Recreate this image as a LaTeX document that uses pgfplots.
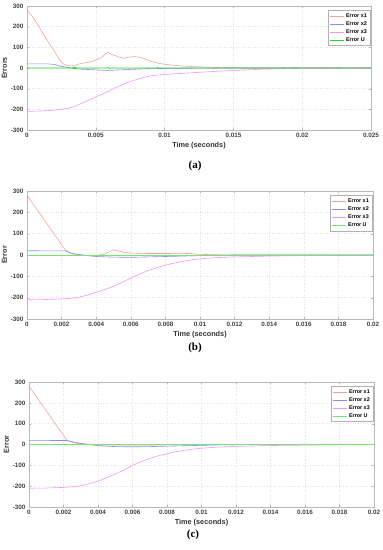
\documentclass[border=0pt]{standalone}
\usepackage{pgfplots}
\pgfplotsset{compat=1.18}
\usepackage{fontspec}
\setmainfont{Liberation Sans}
\newfontfamily\capfont{Liberation Serif}
\definecolor{cx1}{RGB}{240,160,160}
\definecolor{cx2}{RGB}{140,140,232}
\definecolor{cx3}{RGB}{244,150,244}
\definecolor{cu}{RGB}{120,225,120}
\definecolor{cuA}{RGB}{40,215,40}
\pgfplotsset{
  errstyle/.style={
    scale only axis,
    ymin=-300, ymax=300, ytick={-300,-200,...,300},
    scaled x ticks=false, scaled y ticks=false,
    axis line style={gray!55},
    tick style={gray!60},
    tick align=inside, major tick length=2pt,
    grid=major, major grid style={gray!22, dotted},
    /pgf/number format/assume math mode=true,
    ticklabel style={font=\fontsize{6.3}{7}\selectfont\bfseries\color{black!75}},
    xtick pos=both, ytick pos=both,
    label style={font=\fontsize{7.3}{8}\selectfont\bfseries\color{black!80}},
    xlabel={Time (seconds)},
    xlabel style={yshift=3pt},
    ylabel style={yshift=-3pt},
    legend style={at={(0.997,0.965)}, anchor=north east, draw=gray!60, fill=white,
      font=\fontsize{5.4}{6}\selectfont\bfseries, row sep=-1.3pt, inner sep=1pt,
      cells={anchor=west}},
    legend image code/.code={\draw[##1, line width=0.6pt] (0pt,0pt) -- (14pt,0pt);},
    every axis plot/.append style={line width=0.6pt},
    clip=true,
  }
}
\begin{document}
\begin{tikzpicture}
\useasboundingbox (0pt,0pt) rectangle (383pt,550pt);
% ---------------- (a)
\begin{axis}[errstyle, at={(27pt,420pt)}, anchor=south west, width=344pt, height=124pt,
  xmin=0, xmax=0.025, xtick={0,0.005,0.01,0.015,0.02,0.025},
  xticklabels={0,0.005,0.01,0.015,0.02,0.025},
  ylabel={Errors}]
\addplot[color=cx1] coordinates {(0,282)(0.0005,240)(0.001,185)(0.0015,130)(0.002,80)(0.0023,45)(0.0026,22)(0.0029,11)(0.0032,10)(0.0036,16)(0.004,23)(0.0045,28)(0.005,38)(0.0054,50)(0.0057,68)(0.0059,76)(0.006,70)(0.0062,65)(0.0066,55)(0.007,47)(0.0074,52)(0.0078,55)(0.0082,52)(0.0086,43)(0.009,32)(0.0095,24)(0.01,18)(0.011,11)(0.012,7)(0.013,4)(0.014,2)(0.015,1)(0.017,0)(0.025,0)};
\addplot[color=cx2] coordinates {(0,20)(0.0015,20)(0.002,17)(0.0025,8)(0.003,2)(0.0035,-3)(0.004,-6)(0.005,-9)(0.0058,-12)(0.0065,-10)(0.0075,-7)(0.0085,-4)(0.01,-2)(0.012,-1)(0.015,0)(0.025,0)};
\addplot[color=cx3] coordinates {(0,-210)(0.001,-208)(0.002,-204)(0.0025,-200)(0.003,-195)(0.0035,-185)(0.004,-170)(0.0045,-155)(0.005,-140)(0.0055,-125)(0.006,-110)(0.0065,-93)(0.007,-78)(0.0075,-65)(0.008,-55)(0.0085,-45)(0.009,-38)(0.0095,-34)(0.01,-31)(0.011,-27)(0.012,-23)(0.013,-19)(0.014,-15)(0.015,-12)(0.016,-9)(0.017,-6)(0.018,-4)(0.02,-2)(0.022,-1)(0.025,0)};
\addplot[color=cuA, line width=0.8pt] coordinates {(0,0)(0.0033,0)(0.00335,3)(0.0034,-3)(0.00345,3)(0.0035,-3)(0.00355,3)(0.0036,-2)(0.0037,0)(0.0058,0)(0.0059,2)(0.006,-2)(0.0061,0)(0.0094,0)(0.0095,2)(0.0096,-2)(0.0097,0)(0.0185,0)(0.0186,2)(0.0187,-2)(0.0188,0)(0.0193,0)(0.0194,2)(0.0195,-2)(0.0196,0)(0.0225,0)(0.0226,2)(0.0227,-2)(0.0228,0)(0.025,0)};
\legend{Error x1,Error x2,Error x3,Error U}
\end{axis}
\node[font=\capfont\bfseries\fontsize{11}{12}\selectfont] at (195pt,384pt) {(a)};
% ---------------- (b)
\begin{axis}[errstyle, at={(27pt,231pt)}, anchor=south west, width=346pt, height=128pt,
  xmin=0, xmax=0.02, xtick={0,0.002,0.004,0.006,0.008,0.01,0.012,0.014,0.016,0.018,0.02},
  xticklabels={0,0.002,0.004,0.006,0.008,0.01,0.012,0.014,0.016,0.018,0.02},
  ylabel={Error}]
\addplot[color=cx1] coordinates {(0,280)(0.0022,25)(0.0026,5)(0.003,1)(0.0035,-2)(0.004,-3)(0.0045,5)(0.005,25)(0.0053,18)(0.0057,11)(0.006,9)(0.007,7)(0.008,7)(0.009,8)(0.0095,6)(0.01,3)(0.011,1)(0.012,0)(0.02,0)};
\addplot[color=cx2] coordinates {(0,20)(0.0022,19)(0.0026,8)(0.003,2)(0.0035,-3)(0.004,-7)(0.005,-10)(0.006,-11)(0.007,-9)(0.008,-7)(0.009,-5)(0.01,-3)(0.011,-1)(0.012,0)(0.02,0)};
\addplot[color=cx3] coordinates {(0,-210)(0.001,-209)(0.002,-206)(0.0025,-203)(0.003,-198)(0.0035,-188)(0.004,-175)(0.0045,-162)(0.005,-147)(0.0055,-128)(0.006,-108)(0.0065,-90)(0.007,-73)(0.0075,-60)(0.008,-48)(0.0085,-38)(0.009,-30)(0.0095,-23)(0.01,-18)(0.011,-12)(0.012,-9)(0.013,-7)(0.014,-5)(0.016,-3)(0.018,-1)(0.02,0)};
\addplot[color=cu] coordinates {(0,0)(0.02,0)};
\legend{Error x1,Error x2,Error x3,Error U}
\end{axis}
\node[font=\capfont\bfseries\fontsize{11}{12}\selectfont] at (195pt,202pt) {(b)};
% ---------------- (c)
\begin{axis}[errstyle, at={(29pt,43pt)}, anchor=south west, width=345pt, height=125pt,
  xmin=0, xmax=0.02, xtick={0,0.002,0.004,0.006,0.008,0.01,0.012,0.014,0.016,0.018,0.02},
  xticklabels={0,0.002,0.004,0.006,0.008,0.01,0.012,0.014,0.016,0.018,0.02},
  ylabel={Error}]
\addplot[color=cx1] coordinates {(0,280)(0.0022,20)(0.0026,8)(0.003,3)(0.0035,0)(0.004,-2)(0.005,-3)(0.006,-3)(0.008,-2)(0.01,-1)(0.012,0)(0.02,0)};
\addplot[color=cx2] coordinates {(0,20)(0.0022,19)(0.0027,10)(0.003,5)(0.0035,0)(0.004,-5)(0.0045,-8)(0.005,-10)(0.006,-11)(0.007,-10)(0.008,-8)(0.009,-6)(0.01,-4)(0.011,-2)(0.012,-1)(0.014,0)(0.02,0)};
\addplot[color=cx3] coordinates {(0,-210)(0.001,-209)(0.002,-206)(0.0025,-203)(0.003,-198)(0.0035,-188)(0.004,-176)(0.0045,-160)(0.005,-142)(0.0055,-122)(0.006,-100)(0.0065,-82)(0.007,-67)(0.0075,-54)(0.008,-44)(0.0085,-35)(0.009,-28)(0.0095,-22)(0.01,-18)(0.011,-12)(0.012,-9)(0.013,-7)(0.014,-5)(0.016,-3)(0.018,-1)(0.02,0)};
\addplot[color=cu] coordinates {(0,0)(0.02,0)};
\legend{Error x1,Error x2,Error x3,Error U}
\end{axis}
\node[font=\capfont\bfseries\fontsize{11}{12}\selectfont] at (193pt,15pt) {(c)};
\end{tikzpicture}
\end{document}
